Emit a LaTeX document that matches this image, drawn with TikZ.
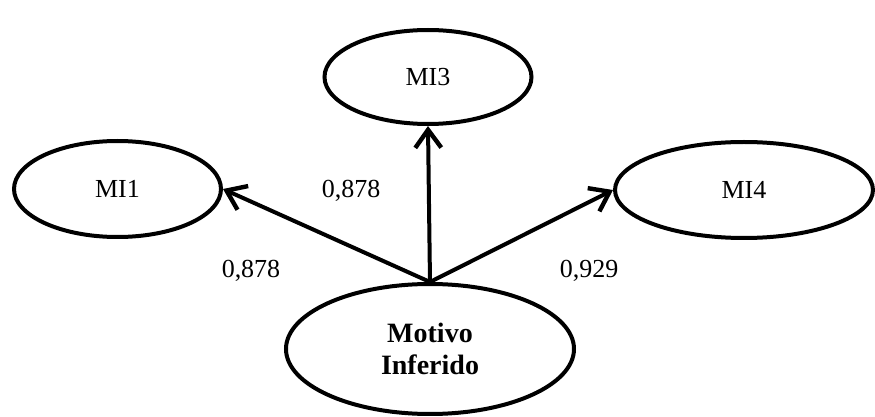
\documentclass[tikz,border=0pt]{standalone}
\usepackage{fontspec}
\setmainfont{Liberation Serif}
\usetikzlibrary{shapes.geometric,arrows.meta}
\begin{document}
\begin{tikzpicture}[x=0.5pt,y=-0.5pt,
  txt/.style={font=\fontsize{13}{15.5}\selectfont},
  latent/.style={ellipse,draw=black,line width=2pt,inner sep=0pt,txt,align=center},
  path/.style={line width=2pt,-{Straight Barb[length=9pt,width=13pt,line width=2.2pt]}},
  coef/.style={txt,inner sep=0pt}]
  \useasboundingbox (0,0) rectangle (875,417);
  % indicator ellipses
  \node[latent,minimum width=103.5pt,minimum height=48pt] (mi1) at (117.5,189) {MI1};
  \node[latent,minimum width=103.5pt,minimum height=47pt] (mi3) at (428,77) {MI3};
  \node[latent,minimum width=129pt,minimum height=48pt] (mi4) at (744,190) {MI4};
  % latent construct
  \node[latent,minimum width=144pt,minimum height=65pt,font=\fontsize{14}{16}\selectfont\bfseries] (mot) at (430,349) {Motivo\\Inferido};
  % loadings
  \draw[path] (mot.north) -- (mi1.east);
  \draw[path] (mot.north) -- (mi3.south);
  \draw[path] (mot.north) -- (mi4.west);
  \node[coef] (l1) at (251,271) {0,878};
  \node[coef] (l3) at (351,191) {0,878};
  \node[coef] (l4) at (589,271) {0,929};
\end{tikzpicture}
\end{document}
